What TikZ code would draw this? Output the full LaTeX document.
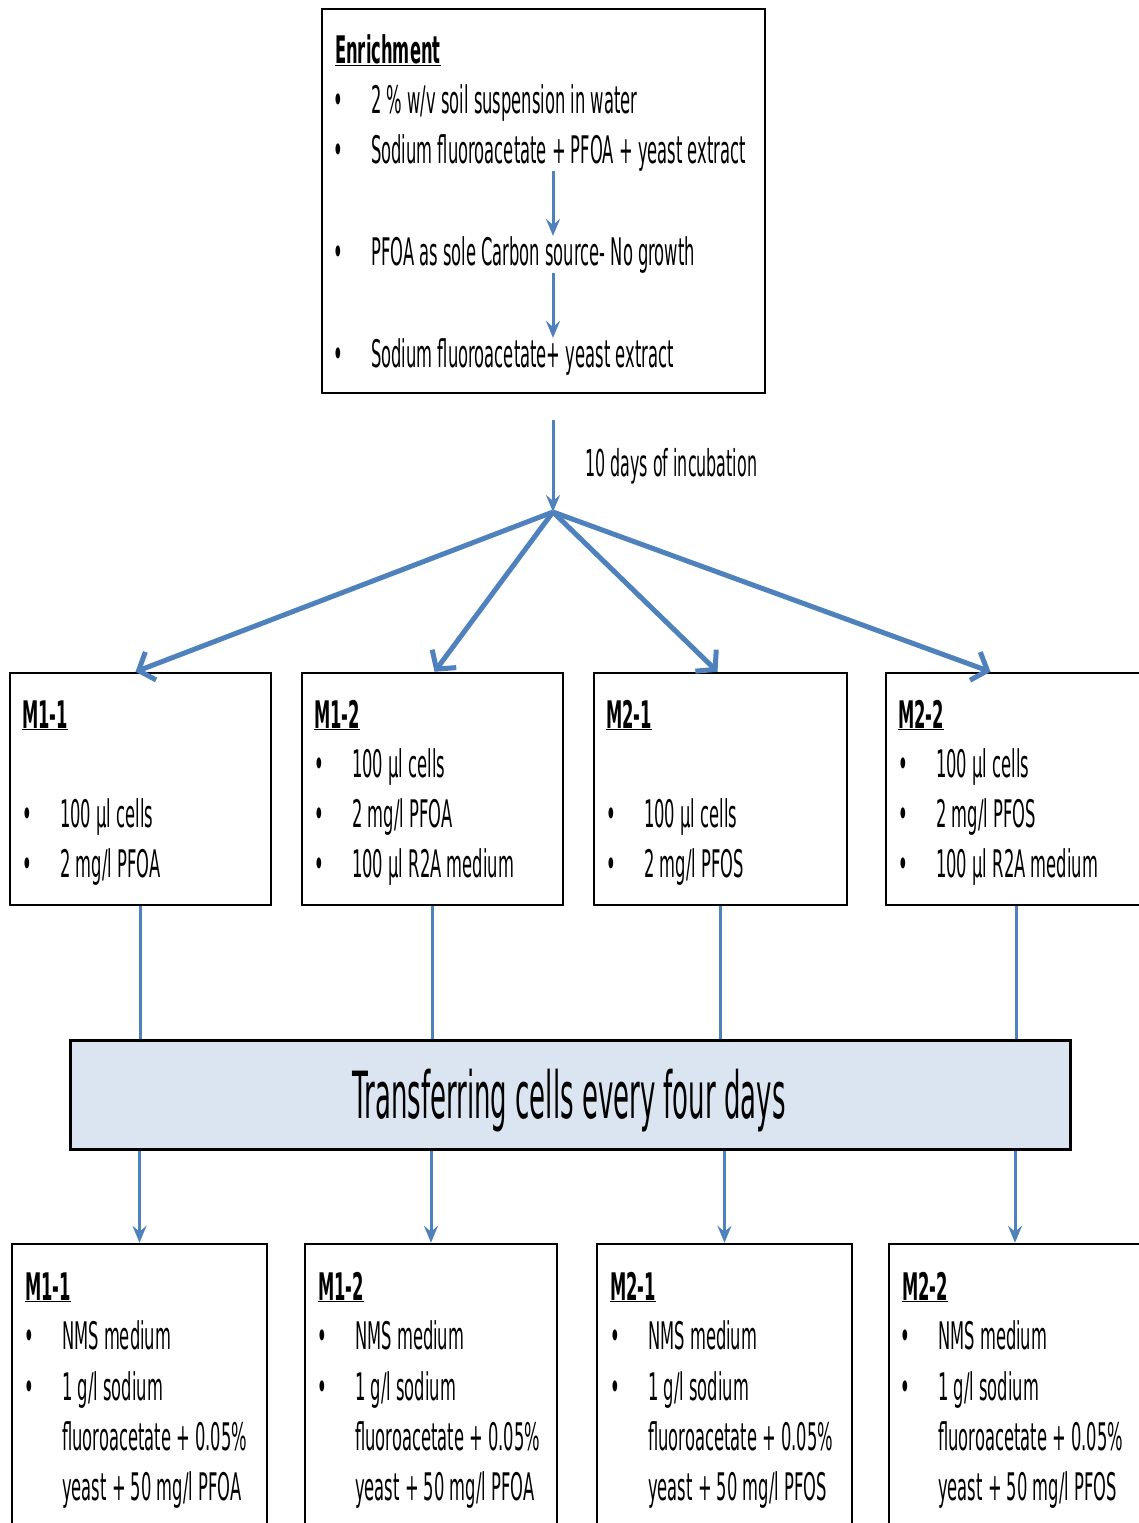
\documentclass[tikz,border=0pt]{standalone}
\usepackage{fontspec}
\setmainfont{DejaVu Sans}[FakeStretch=0.43]
\newfontfamily\trfont{DejaVu Sans}[FakeStretch=0.40]
\usetikzlibrary{arrows.meta}
\definecolor{arrowblue}{RGB}{79,129,189}
\definecolor{boxfill}{RGB}{219,229,241}
\newcommand\bul{\makebox[38pt][l]{\textbullet}}
\newcommand\cnt{\hspace*{38pt}}
\begin{document}
\begin{tikzpicture}[x=1pt,y=-1pt,
  boxst/.style={draw=black, line width=2.5pt, inner sep=0pt},
  itm/.style={anchor=base west, inner sep=0pt, font=\fontsize{38}{40}\selectfont},
  ttl/.style={anchor=base west, inner sep=0pt, font=\fontsize{38}{40}\selectfont\bfseries},
  thick arrow/.style={draw=arrowblue, line width=5pt, -{Straight Barb[length=13pt,width=30pt]}},
  thin arrow/.style={draw=arrowblue, line width=3pt, -{Stealth[length=17pt,width=14pt,inset=6pt]}},
  plain line/.style={draw=arrowblue, line width=3pt}]
\useasboundingbox (0,0) rectangle (1139,1523);
\clip (0,0) rectangle (1139,1523);
\fill[white] (0,0) rectangle (1139,1523);

% ---------- enrichment box
\node[boxst, minimum width=443pt, minimum height=384pt] (enr) at (543.5,201) {};
\node[ttl] (enrt) at (335,63) {\underline{Enrichment}};
\node[itm] (e1) at (333,113) {\bul 2 \% w/v soil suspension in water};
\node[itm] (e2) at (333,163) {\bul Sodium fluoroacetate + PFOA + yeast extract};
\node[itm] (e3) at (333,265) {\bul PFOA as sole Carbon source- No growth};
\node[itm] (e4) at (333,367) {\bul Sodium fluoroacetate+ yeast extract};
\coordinate (ax) at (553,0);
\draw[thin arrow] (e2.south -| ax) -- (e3.north -| ax);
\draw[thin arrow] (e3.south -| ax) -- (e4.north -| ax);

% ---------- incubation
\coordinate (inctop) at (553,420);
\coordinate (branch) at (553,512);
\draw[thin arrow] (inctop) -- (branch);
\node[itm, font=\fontsize{37}{40}\selectfont] (inc) at (585,476) {10 days of incubation};

% ---------- middle boxes
\node[boxst, minimum width=261pt, minimum height=232pt] (m11) at (140.5,789) {};
\node[boxst, minimum width=261pt, minimum height=232pt] (m12) at (432.5,789) {};
\node[boxst, minimum width=253pt, minimum height=232pt] (m21) at (720.5,789) {};
\node[boxst, minimum width=255pt, minimum height=232pt] (m22) at (1013.5,789) {};

\draw[thick arrow] (branch) -- ([xshift=-5pt]m11.north);
\draw[thick arrow] (branch) -- ([xshift=2pt]m12.north);
\draw[thick arrow] (branch) -- ([xshift=-3pt]m21.north);
\draw[thick arrow] (branch) -- ([xshift=-23pt]m22.north);

\node[ttl] (m11t) at (22,728) {\underline{M1-1}};
\node[itm] (m11a) at (22,827) {\bul 100 µl cells};
\node[itm] (m11b) at (22,877) {\bul 2 mg/l PFOA};

\node[ttl] (m12t) at (314,728) {\underline{M1-2}};
\node[itm] (m12a) at (314,777) {\bul 100 µl cells};
\node[itm] (m12b) at (314,827) {\bul 2 mg/l PFOA};
\node[itm] (m12c) at (314,877) {\bul 100 µl R2A medium};

\node[ttl] (m21t) at (606,728) {\underline{M2-1}};
\node[itm] (m21a) at (606,827) {\bul 100 µl cells};
\node[itm] (m21b) at (606,877) {\bul 2 mg/l PFOS};

\node[ttl] (m22t) at (898,728) {\underline{M2-2}};
\node[itm] (m22a) at (898,777) {\bul 100 µl cells};
\node[itm] (m22b) at (898,827) {\bul 2 mg/l PFOS};
\node[itm] (m22c) at (898,877) {\bul 100 µl R2A medium};

% ---------- transfer box
\node[draw=black, line width=3pt, fill=boxfill, minimum width=1000pt, minimum height=109pt, inner sep=0pt] (tr) at (570,1094.5) {};
\node[anchor=base, inner sep=0pt, font=\trfont\fontsize{65}{68}\selectfont] (trt) at (569,1118) {Transferring cells every four days};

\draw[plain line] (m11.south) -- (m11.south |- tr.north);
\draw[plain line] (m12.south) -- (m12.south |- tr.north);
\draw[plain line] (m21.south) -- (m21.south |- tr.north);
\draw[plain line] ([xshift=2.5pt]m22.south) -- ([xshift=2.5pt]m22.south |- tr.north);

% ---------- bottom boxes
\node[boxst, minimum width=255pt, minimum height=300pt] (b11) at (139.5,1394) {};
\node[boxst, minimum width=252pt, minimum height=300pt] (b12) at (431,1394) {};
\node[boxst, minimum width=255pt, minimum height=300pt] (b21) at (724.5,1394) {};
\node[boxst, minimum width=252pt, minimum height=300pt] (b22) at (1015,1394) {};

\draw[thin arrow] (b11.north |- tr.south) -- (b11.north);
\draw[thin arrow] (b12.north |- tr.south) -- (b12.north);
\draw[thin arrow] (b21.north |- tr.south) -- (b21.north);
\draw[thin arrow] (b22.north |- tr.south) -- (b22.north);

\node[ttl] (b11t) at (25,1300) {\underline{M1-1}};
\node[itm] (b11a) at (24,1349) {\bul NMS medium};
\node[itm] (b11b) at (24,1400) {\bul 1 g/l sodium};
\node[itm] (b11c) at (24,1450) {\cnt fluoroacetate + 0.05\%};
\node[itm] (b11d) at (24,1500) {\cnt yeast + 50 mg/l PFOA};

\node[ttl] (b12t) at (318,1300) {\underline{M1-2}};
\node[itm] (b12a) at (317,1349) {\bul NMS medium};
\node[itm] (b12b) at (317,1400) {\bul 1 g/l sodium};
\node[itm] (b12c) at (317,1450) {\cnt fluoroacetate + 0.05\%};
\node[itm] (b12d) at (317,1500) {\cnt yeast + 50 mg/l PFOA};

\node[ttl] (b21t) at (610,1300) {\underline{M2-1}};
\node[itm] (b21a) at (610,1349) {\bul NMS medium};
\node[itm] (b21b) at (610,1400) {\bul 1 g/l sodium};
\node[itm] (b21c) at (610,1450) {\cnt fluoroacetate + 0.05\%};
\node[itm] (b21d) at (610,1500) {\cnt yeast + 50 mg/l PFOS};

\node[ttl] (b22t) at (902,1300) {\underline{M2-2}};
\node[itm] (b22a) at (900,1349) {\bul NMS medium};
\node[itm] (b22b) at (900,1400) {\bul 1 g/l sodium};
\node[itm] (b22c) at (900,1450) {\cnt fluoroacetate + 0.05\%};
\node[itm] (b22d) at (900,1500) {\cnt yeast + 50 mg/l PFOS};
\end{tikzpicture}
\end{document}
